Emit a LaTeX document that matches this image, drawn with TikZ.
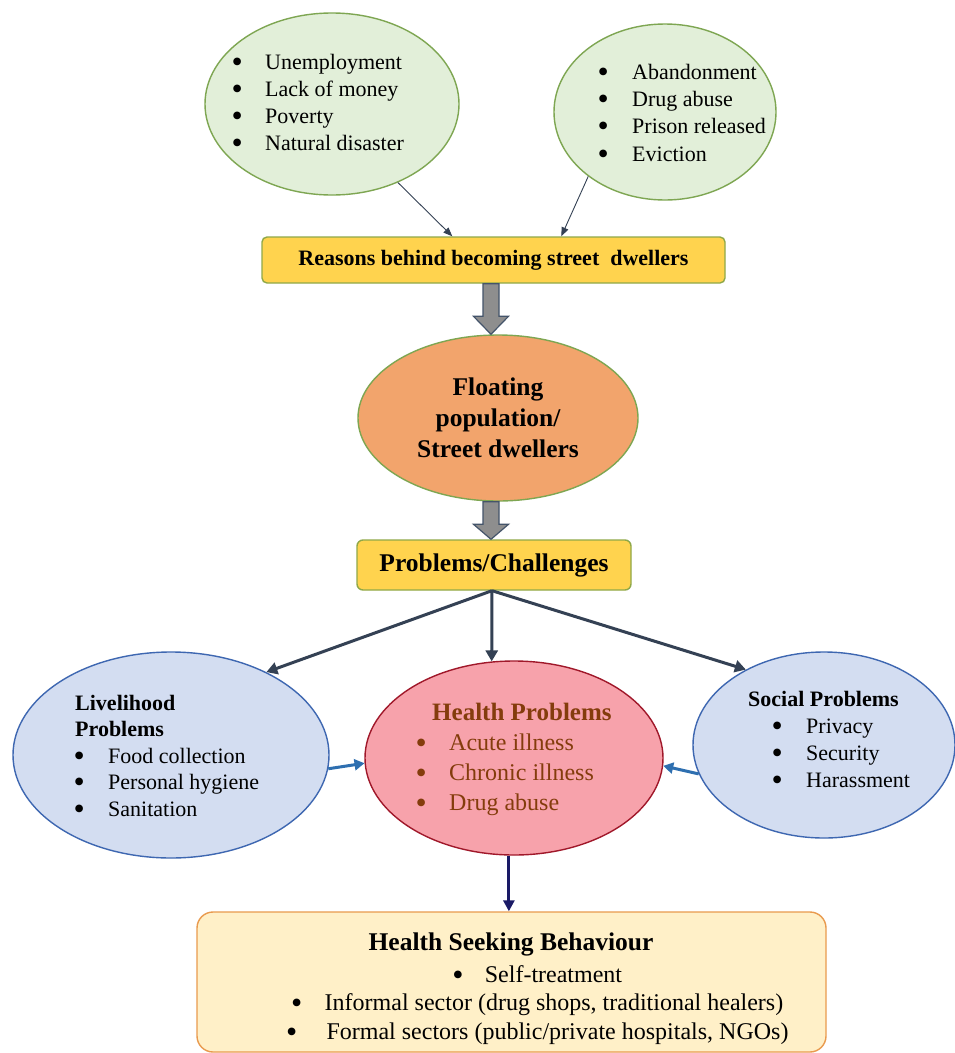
\documentclass[tikz,border=0pt]{standalone}
\usepackage{fontspec}
\setmainfont{Liberation Serif}
\usetikzlibrary{shapes.geometric,arrows.meta,calc}

\definecolor{grfill}{HTML}{E2EFD9}
\definecolor{grdraw}{HTML}{7EA652}
\definecolor{ylfill}{HTML}{FFD34E}
\definecolor{yldraw}{HTML}{8FA848}
\definecolor{orfill}{HTML}{F2A46C}
\definecolor{gyfill}{HTML}{8E8E8E}
\definecolor{gydraw}{HTML}{44546A}
\definecolor{blfill}{HTML}{D3DDF1}
\definecolor{bldraw}{HTML}{3E67B1}
\definecolor{pkfill}{HTML}{F7A2AB}
\definecolor{pkdraw}{HTML}{A0182A}
\definecolor{hbrown}{HTML}{843C0C}
\definecolor{slate}{HTML}{344154}
\definecolor{bluearr}{HTML}{2E6FB0}
\definecolor{navyarr}{HTML}{1A1A66}
\definecolor{hsbfill}{HTML}{FFF0C8}
\definecolor{hsbdraw}{HTML}{E99A4E}

\newcommand\bulw[1]{\makebox[#1][l]{\hspace*{-1.5pt}\smash{\raisebox{-3.2pt}{\fontsize{32}{32}\selectfont\textbullet}}}}

\begin{document}
\begin{tikzpicture}[x=1pt,y=-1pt,
  ell/.style={ellipse, inner sep=0pt, line width=1.4pt},
  txt/.style={inner sep=0pt, align=left, anchor=base west},
  thinarr/.style={draw=slate, line width=0.9pt, -{Triangle[length=9pt,width=7pt]}},
  thickarr/.style={draw=slate, line width=3pt, -{Triangle[length=11pt,width=12pt]}},
  bluearrow/.style={draw=bluearr, line width=3pt, -{Triangle[length=10pt,width=11pt]}},
  navyarrow/.style={draw=navyarr, line width=3pt, -{Triangle[length=11pt,width=11pt]}},
  block/.style={fill=gyfill, draw=gydraw, line width=1.2pt, line join=miter},
  ybox/.style={rectangle, fill=ylfill, draw=yldraw, line width=1.4pt, inner sep=0pt},
]
\useasboundingbox (0,0) rectangle (955,1053);
\fill[white] (0,0) rectangle (955,1053);

% top green ellipses
\node[ell, fill=grfill, draw=grdraw, minimum width=254pt, minimum height=182pt] (greenL) at (332,104) {};
\node[ell, fill=grfill, draw=grdraw, minimum width=222pt, minimum height=176pt] (greenR) at (665,112) {};
\node[txt, font=\fontsize{22}{27}\selectfont] (greenLtxt) at (233,150)
  {\bulw{32pt}Unemployment\\\bulw{32pt}Lack of money\\\bulw{32pt}Poverty\\\bulw{32pt}Natural disaster};
\node[txt, font=\fontsize{22}{27.3}\selectfont] (greenRtxt) at (599,161)
  {\bulw{33pt}Abandonment\\\bulw{33pt}Drug abuse\\\bulw{33pt}Prison released\\\bulw{33pt}Eviction};

% reasons box
\node[ybox, rounded corners=5pt, minimum width=463pt, minimum height=46pt,
  font=\fontsize{22}{26}\selectfont\bfseries] (reasons) at (493.5,260)
  {Reasons behind becoming street~ dwellers};

% floating population
\node[ell, fill=orfill, draw=grdraw, minimum width=280pt, minimum height=166pt,
  align=center, font=\fontsize{25.5}{31}\selectfont\bfseries] (floating) at (498,418)
  {Floating\\population/\\Street dwellers};

% problems box
\node[ybox, rounded corners=6pt, minimum width=274pt, minimum height=50pt,
  font=\fontsize{25.5}{30}\selectfont\bfseries] (probs) at (494,565)
  {Problems/Challenges};

% lower ellipses
\node[ell, fill=blfill, draw=bldraw, minimum width=316pt, minimum height=206pt] (liv) at (171,755) {};
\node[ell, fill=pkfill, draw=pkdraw, minimum width=298pt, minimum height=194pt] (health) at (514,758) {};
\node[ell, fill=blfill, draw=bldraw, minimum width=262pt, minimum height=186pt] (social) at (824,745) {};

\node[txt, font=\fontsize{22}{26.5}\selectfont] (livtxt) at (75,816)
  {\textbf{Livelihood}\\\textbf{Problems}\\\bulw{33pt}Food collection\\\bulw{33pt}Personal hygiene\\\bulw{33pt}Sanitation};
\node[txt, text=hbrown, font=\fontsize{24}{29.7}\selectfont] (healthtxt) at (417,810)
  {\hspace*{15pt}{\fontsize{25}{29.7}\selectfont\bfseries Health Problems}\\\bulw{32pt}Acute illness\\\bulw{32pt}Chronic illness\\\bulw{32pt}Drug abuse};
\node[txt, font=\fontsize{22}{26.7}\selectfont] (socialtxt) at (748,787)
  {\textbf{Social Problems}\\\hspace*{25pt}\bulw{33pt}Privacy\\\hspace*{25pt}\bulw{33pt}Security\\\hspace*{25pt}\bulw{33pt}Harassment};

% health seeking behaviour box
\node[rectangle, fill=hsbfill, draw=hsbdraw, line width=1.4pt, rounded corners=16pt,
  minimum width=629pt, minimum height=140pt, inner sep=0pt] (hsb) at (511.5,982) {};
\node[inner sep=0pt, anchor=base, font=\fontsize{25.5}{30}\selectfont\bfseries] (hsbhead) at (511,950)
  {Health Seeking Behaviour};
\node[inner sep=0pt, anchor=base, align=center, font=\fontsize{24}{28.5}\selectfont] (hsbtxt) at (538,1039)
  {\bulw{31pt}Self-treatment\\\bulw{32pt}Informal sector (drug shops, traditional healers)\\\bulw{39pt}Formal sectors (public/private hospitals, NGOs)};

% thin arrows to reasons
\draw[thinarr] (greenL.310) -- ($(reasons.north west)+(191,0)$);
\draw[thinarr] (greenR.220) -- ($(reasons.north west)+(300,0)$);

% block arrows
\coordinate (a1) at ($(reasons.south)+(-2.5,0)$);
\coordinate (b1) at (a1 |- floating.north);
\draw[block] ($(a1)+(-8,0)$) -- ($(b1)+(-8,-18)$) -- ($(b1)+(-17.5,-18)$) -- (b1)
  -- ($(b1)+(17.5,-18)$) -- ($(b1)+(8,-18)$) -- ($(a1)+(8,0)$) -- cycle;
\coordinate (a2) at (a1 |- floating.south);
\coordinate (b2) at (a1 |- probs.north);
\draw[block] ($(a2)+(-8,0)$) -- ($(b2)+(-8,-15)$) -- ($(b2)+(-17.5,-15)$) -- (b2)
  -- ($(b2)+(17.5,-15)$) -- ($(b2)+(8,-15)$) -- ($(a2)+(8,0)$) -- cycle;

% thick arrows from problems
\coordinate (p0) at ($(probs.south)+(-2,0)$);
\draw[thickarr] (p0) -- (liv.41);
\draw[thickarr] (p0) -- (health.103);
\draw[thickarr] (p0) -- (social.136);

% blue arrows into health
\draw[bluearrow] (liv.-5) -- (health.182);
\draw[bluearrow] (social.193) -- (health.-3);

% navy arrow down
\draw[navyarrow] (health.267) -- (health.267 |- hsb.north);
\end{tikzpicture}
\end{document}
